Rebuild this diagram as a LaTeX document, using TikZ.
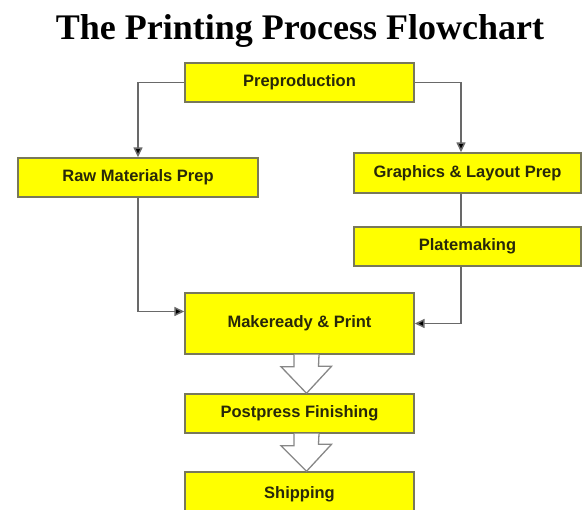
\documentclass[tikz,border=0pt]{standalone}
\usepackage{fontspec}
\setmainfont{Liberation Sans}
\newfontfamily\titlefont{Liberation Serif}
\usepackage{xcolor}
\usepackage{tikz}
\usetikzlibrary{arrows.meta,positioning}
\definecolor{procyellow}{RGB}{255,255,0}
\definecolor{procedge}{RGB}{120,120,90}
\definecolor{proctext}{RGB}{40,40,10}
\definecolor{procline}{RGB}{105,105,105}
\tikzset{
  procbox/.style={
    rectangle,
    fill=procyellow,
    draw=procedge,
    line width=1.4pt,
    align=center,
    inner sep=3pt,
    text=proctext,
    font=\bfseries\fontsize{16.5}{18}\selectfont
  },
  procwire/.style={
    line width=1.5pt,
    draw=procline
  },
  procarrow/.style={
    procwire,
    -{Triangle[length=10pt,width=9pt,fill=black]}
  },
  blockarrow/.style={
    fill=white,
    draw=procline!80,
    line width=1.3pt,
    line join=miter
  }
}

\begin{document}
\begin{tikzpicture}[x=1pt,y=-1pt]
\useasboundingbox (0,0) rectangle (582,510);
\node[font=\titlefont\bfseries\fontsize{36}{40}\selectfont] (title) at (300,31) {The Printing Process Flowchart};

\node[procbox, minimum width=229pt, minimum height=39pt] (pre) at (299.5,82.5) {Preproduction};
\node[procbox, minimum width=240pt, minimum height=39pt] (raw) at (138,177.5) {Raw Materials Prep};
\node[procbox, minimum width=227pt, minimum height=40pt] (gfx) at (467.5,173) {Graphics \& Layout Prep};
\node[procbox, minimum width=227pt, minimum height=39pt] (plate) at (467.5,246.5) {Platemaking};
\node[procbox, minimum width=229pt, minimum height=61pt] (make) at (299.5,323.5) {Makeready \& Print};
\node[procbox, minimum width=229pt, minimum height=39pt] (post) at (299.5,413.5) {Postpress Finishing};
\node[procbox, minimum width=229pt, minimum height=44pt] (ship) at (299.5,494) {Shipping};

\draw[procarrow] (pre.west) -| (raw.north);
\draw[procarrow] (pre.east) -| ([xshift=-6.5pt]gfx.north);
\draw[procwire] ([xshift=-6.5pt]gfx.south) -- ([xshift=-6.5pt]plate.north);
\draw[procarrow] ([xshift=-6.5pt]plate.south) |- (make.east);
\draw[procarrow] (raw.south) |- ([yshift=12pt]make.west);

% hollow arrows down the middle
\foreach \a/\b in {make/post,post/ship}
  \draw[blockarrow] ([xshift=-5.5pt]\a.south) -- ++(0,12) -- ++(-13,0)
    -- ([xshift=7pt]\b.north) -- ++(25,-27) -- ++(-13,0)
    -- ([xshift=19.5pt]\a.south);
\end{tikzpicture}
\end{document}
